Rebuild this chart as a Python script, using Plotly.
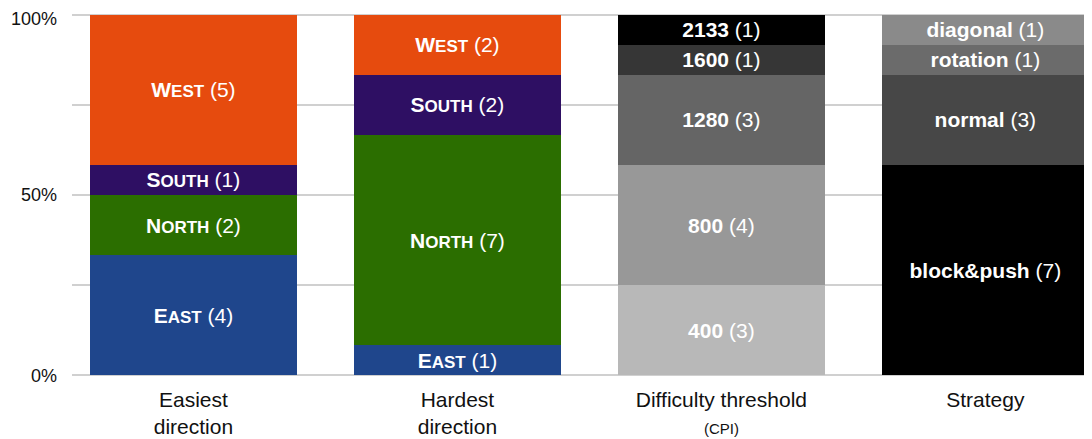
import plotly.graph_objects as go

categories = ["Easiest<br>direction", "Hardest<br>direction",
              "Difficulty threshold<br><span style='font-size:15px'>(CPI)</span>", "Strategy"]

# segments per category, bottom to top
easiest_labels = ["East", "North", "South", "West"]
easiest_values = [4, 2, 1, 5]
hardest_labels = ["East", "North", "South", "West"]
hardest_values = [1, 7, 2, 2]
threshold_labels = ["400", "800", "1280", "1600", "2133"]
threshold_values = [3, 4, 3, 1, 1]
strategy_labels = ["block&push", "normal", "rotation", "diagonal"]
strategy_values = [7, 3, 1, 1]

y_tickvals = [0, 25, 50, 75, 100]
y_ticktext = ["0%", "", "50%", "", "100%"]

direction_colors = {"East": "#1F468C", "North": "#2B6E00", "South": "#2E0F63", "West": "#E64B0E"}
threshold_colors = ["#B8B8B8", "#989898", "#656565", "#363636", "#000000"]
strategy_colors = ["#000000", "#474747", "#6B6B6B", "#8A8A8A"]


def smallcaps(word):
    return "<b>%s<span style='font-size:17px'>%s</span></b>" % (word[0].upper(), word[1:].upper())


fig = go.Figure()


def add_segments(cat, labels, values, colors, caps):
    for lab, val, col in zip(labels, values, colors):
        name = smallcaps(lab) if caps else "<b>%s</b>" % lab
        fig.add_trace(go.Bar(
            x=[cat], y=[val], marker=dict(color=col, line=dict(width=0)),
            text=["%s (%d)" % (name, val)], textposition="inside",
            insidetextanchor="middle", textangle=0,
            textfont=dict(color="white", size=21, family="Liberation Sans"),
            showlegend=False, hoverinfo="skip", width=0.784,
        ))


add_segments(categories[0], easiest_labels, easiest_values,
             [direction_colors[l] for l in easiest_labels], True)
add_segments(categories[1], hardest_labels, hardest_values,
             [direction_colors[l] for l in hardest_labels], True)
add_segments(categories[2], threshold_labels, threshold_values, threshold_colors, False)
add_segments(categories[3], strategy_labels, strategy_values, strategy_colors, False)

# top tick label is nudged down so it stays inside the figure
shown_ticktext = y_ticktext[:-1] + [""]
fig.add_annotation(x=0, xref="paper", y=y_tickvals[-1], yref="y",
                   text=y_ticktext[-1], showarrow=False, xanchor="right",
                   yanchor="middle", xshift=-13, yshift=-4,
                   font=dict(size=18, color="#111111", family="Liberation Sans"))

fig.update_layout(
    barmode="stack", barnorm="percent",
    width=1084, height=431,
    margin=dict(l=64, r=0, t=5, b=62, autoexpand=False),
    plot_bgcolor="white", paper_bgcolor="white",
    font=dict(family="Liberation Sans", color="#111111"),
    uniformtext=dict(minsize=21, mode="show"),
    xaxis=dict(type="category", categoryorder="array", categoryarray=categories,
               range=[-0.46, 3.404], showgrid=False, showline=False, ticks="",
               automargin=False, ticklabelstandoff=8,
               tickfont=dict(size=21, color="#111111")),
    yaxis=dict(range=[-0.5, 100.5], tickvals=y_tickvals,
               ticktext=shown_ticktext, showgrid=True,
               gridcolor="#D0D0D0", gridwidth=2, zeroline=False, showline=False,
               ticks="", ticklabelstandoff=14, automargin=False,
               tickfont=dict(size=18, color="#111111")),
)

fig.write_html("out.html")
